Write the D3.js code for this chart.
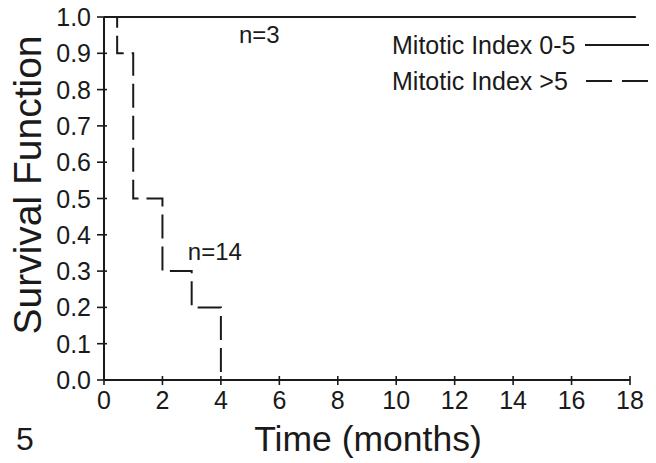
<!DOCTYPE html>
<html>
<head>
<meta charset="utf-8">
<script src="https://cdn.jsdelivr.net/npm/d3@7"></script>
<style>
  html, body { margin: 0; padding: 0; background: #fff; }
  svg { display: block; }
  text { font-family: "Liberation Sans", Arial, sans-serif; fill: #1a1a1a; }
</style>
</head>
<body>
<script>
// ---- data ----
const xTicks = [0, 2, 4, 6, 8, 10, 12, 14, 16, 18];
const yTicks = [0, 0.1, 0.2, 0.3, 0.4, 0.5, 0.6, 0.7, 0.8, 0.9, 1.0];
const lowTimes = [0, 18.2];          // Mitotic Index 0-5
const lowSurvival = [1.0, 1.0];
const highTimes = [0, 0.45, 1, 2, 3, 4];   // Mitotic Index >5
const highSurvival = [1.0, 0.9, 0.5, 0.3, 0.2, 0.0];
const seriesNames = ["Mitotic Index 0-5", "Mitotic Index >5"];
const annotations = [{t: 4.62, s: 0.928, label: "n=3"}, {t: 2.87, s: 0.33, label: "n=14"}];

const W = 656, H = 463;
const svg = d3.select("body").append("svg").attr("width", W).attr("height", H);

const x = d3.scaleLinear().domain([0, 18]).range([104, 630]);
const y = d3.scaleLinear().domain([0, 1]).range([380, 17]);

const ink = "#1a1a1a";

// axes
const gx = svg.append("g").attr("transform", `translate(0,${y(0)})`);
gx.append("line").attr("x1", x(0)).attr("x2", x(18)).attr("stroke", ink).attr("stroke-width", 2);
gx.selectAll("line.tick").data(xTicks).join("line").attr("class", "tick")
  .attr("x1", d => x(d)).attr("x2", d => x(d)).attr("y1", -4).attr("y2", 5)
  .attr("stroke", ink).attr("stroke-width", 1.6);
gx.selectAll("text").data(xTicks).join("text")
  .attr("x", d => x(d)).attr("y", 29).attr("text-anchor", "middle")
  .attr("font-size", 25).text(d => d);

const gy = svg.append("g").attr("transform", `translate(${x(0)},0)`);
gy.append("line").attr("y1", y(0)).attr("y2", y(1)).attr("stroke", ink).attr("stroke-width", 2);
gy.selectAll("line.tick").data(yTicks).join("line").attr("class", "tick")
  .attr("y1", d => y(d)).attr("y2", d => y(d)).attr("x1", -7).attr("x2", 3)
  .attr("stroke", ink).attr("stroke-width", 1.6);
gy.selectAll("text").data(yTicks).join("text")
  .attr("x", -13).attr("y", d => y(d)).attr("dy", "0.36em").attr("text-anchor", "end")
  .attr("font-size", 25).text(d => d3.format(".1f")(d));

// axis titles
svg.append("text").attr("transform", `translate(41,185) rotate(-90)`)
  .attr("text-anchor", "middle").attr("font-size", 39).text("Survival Function");
svg.append("text").attr("x", 368).attr("y", 451).attr("text-anchor", "middle")
  .attr("font-size", 35.5).text("Time (months)");
svg.append("text").attr("x", 16).attr("y", 450).attr("font-size", 32).text("5");

// curves
const line = d3.line().x(d => x(d[0])).y(d => y(d[1])).curve(d3.curveStepAfter);
svg.append("path").datum(d3.zip(lowTimes, lowSurvival)).attr("d", line)
  .attr("fill", "none").attr("stroke", ink).attr("stroke-width", 2);
svg.append("path").datum(d3.zip(highTimes, highSurvival)).attr("d", line)
  .attr("fill", "none").attr("stroke", ink).attr("stroke-width", 2)
  .attr("stroke-dasharray", "24,8");

// annotations
svg.selectAll("text.ann").data(annotations).join("text").attr("class", "ann")
  .attr("x", d => x(d.t)).attr("y", d => y(d.s)).attr("font-size", 24).text(d => d.label);

// legend
const leg = svg.append("g");
const legY = [54, 90];
leg.selectAll("text").data(seriesNames).join("text")
  .attr("x", 392).attr("y", (d, i) => legY[i]).attr("font-size", 25).text(d => d);
leg.append("line").attr("x1", 585).attr("x2", 649).attr("y1", 45).attr("y2", 45)
  .attr("stroke", ink).attr("stroke-width", 2);
leg.append("line").attr("x1", 586).attr("x2", 649).attr("y1", 81).attr("y2", 81)
  .attr("stroke", ink).attr("stroke-width", 2).attr("stroke-dasharray", "26,10");
</script>
</body>
</html>
